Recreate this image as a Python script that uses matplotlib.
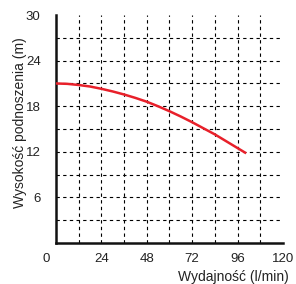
import numpy as np
import matplotlib
matplotlib.use('Agg')
import matplotlib.pyplot as plt
import matplotlib.transforms as mtransforms

plt.rcParams['font.family'] = ['Liberation Sans', 'DejaVu Sans']

# pump curve
flow = [0, 6, 12, 18, 24, 30, 36, 42, 48, 54, 60, 66, 72, 78, 84, 90, 96, 100]
head = [21.0, 20.95, 20.8, 20.6, 20.3, 19.95, 19.55, 19.1, 18.6, 18.0, 17.35,
        16.65, 15.9, 15.1, 14.3, 13.4, 12.5, 11.9]

xticks = [0, 24, 48, 72, 96, 120]
yticks = [6, 12, 18, 24, 30]
xgrid = np.arange(12, 120, 12)
ygrid = np.arange(3, 30, 3)

fig = plt.figure(figsize=(2.96, 2.84), dpi=100)
ax = fig.add_axes([0.189, 0.144, 0.767, 0.803])

for g in xgrid:
    ax.axvline(g, color='black', lw=0.8, ls=(0, (3, 3)), zorder=1)
for g in ygrid:
    ax.axhline(g, color='black', lw=0.8, ls=(0, (3, 3)), zorder=1)

ax.plot(flow, head, color='#e8202a', lw=1.8, zorder=3)

ax.set_xlim(0, 120)
ax.set_ylim(0, 30)
ax.set_xticks(xticks)
ax.set_yticks(yticks)
ax.tick_params(length=0, labelsize=9.5, colors='#222222')
ax.tick_params(axis='x', pad=7)
ax.tick_params(axis='y', pad=11)

# the "0" sits left of the corner in the original
lbl0 = ax.get_xticklabels()[0]
lbl0.set_transform(lbl0.get_transform() +
                   mtransforms.ScaledTranslation(-0.1, 0, fig.dpi_scale_trans))

for s in ['top', 'right']:
    ax.spines[s].set_visible(False)
for s in ['left', 'bottom']:
    ax.spines[s].set_linewidth(1.8)
    ax.spines[s].set_color('#111111')

ax.set_xlabel('Wydajność (l/min)', fontsize=10, color='#222222', ha='right', va='center')
ax.xaxis.set_label_coords(1.024, -0.147)
ax.set_ylabel('Wysokość podnoszenia (m)', fontsize=10, color='#222222', va='center')
ax.yaxis.set_label_coords(-0.159, 0.53)

fig.savefig('out.png', dpi=100)
